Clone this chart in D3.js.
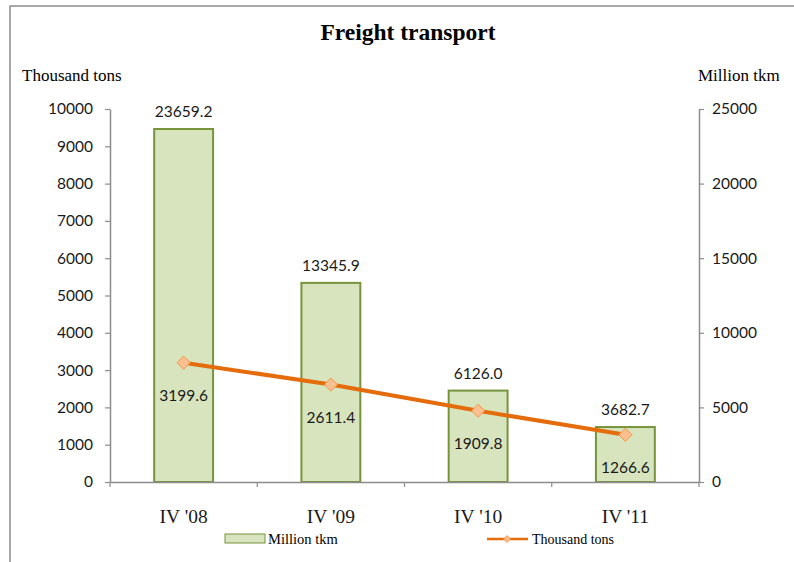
<!DOCTYPE html>
<html>
<head>
<meta charset="utf-8">
<script src="https://cdn.jsdelivr.net/npm/d3@7"></script>
<style>
  body { margin: 0; background: #fff; }
  .serif { font-family: "Liberation Serif", "DejaVu Serif", serif; }
  .sans { font-family: Lato, "Open Sans", sans-serif; }
</style>
</head>
<body>
<script>
// freight transport: bars = million tkm (right axis), line = thousand tons (left axis)
const quarters = ["IV '08", "IV '09", "IV '10", "IV '11"];
const millionTkm = [23659.2, 13345.9, 6126.0, 3682.7];
const thousandTons = [3199.6, 2611.4, 1909.8, 1266.6];
const leftTicks = [0, 1000, 2000, 3000, 4000, 5000, 6000, 7000, 8000, 9000, 10000];
const rightTicks = [0, 5000, 10000, 15000, 20000, 25000];

const W = 794, H = 562;
const plot = {left: 110, right: 699, top: 109, bottom: 482};

const svg = d3.select("body").append("svg")
    .attr("width", W)
    .attr("height", H);

// outer frame
svg.append("rect")
    .attr("x", 10).attr("y", 6)
    .attr("width", W + 20).attr("height", H + 20)
    .attr("fill", "none")
    .attr("stroke", "#8c8c8c")
    .attr("stroke-width", 1.5);

svg.append("text")
    .attr("class", "serif")
    .attr("x", 408).attr("y", 40)
    .attr("text-anchor", "middle")
    .style("font-size", "23.5px")
    .style("font-weight", "bold")
    .text("Freight transport");

svg.append("text")
    .attr("class", "serif")
    .attr("x", 22).attr("y", 81)
    .style("font-size", "17px")
    .text("Thousand tons");

svg.append("text")
    .attr("class", "serif")
    .attr("x", 698).attr("y", 81)
    .style("font-size", "17px")
    .text("Million tkm");

let x = d3.scaleBand()
    .domain(quarters)
    .range([plot.left, plot.right])
    .paddingInner(0).paddingOuter(0);

let yLeft = d3.scaleLinear().domain([0, 10000]).range([plot.bottom, plot.top]);
let yRight = d3.scaleLinear().domain([0, 25000]).range([plot.bottom, plot.top]);

function styleAxis(g) {
    g.select(".domain").attr("stroke", "#8c8c8c").attr("stroke-width", 1.5);
    g.selectAll(".tick line").attr("stroke", "#8c8c8c").attr("stroke-width", 1.2);
    g.selectAll(".tick text")
        .attr("class", "sans")
        .attr("fill", "#1a1a1a")
        .style("font-size", "15.5px");
}

svg.append("g")
    .attr("transform", "translate(" + plot.left + ",0)")
    .call(d3.axisLeft(yLeft).tickValues(leftTicks).tickFormat(d3.format("d"))
        .tickSize(5).tickPadding(12).tickSizeOuter(0))
    .call(styleAxis);

svg.append("g")
    .attr("transform", "translate(" + plot.right + ",0)")
    .call(d3.axisRight(yRight).tickValues(rightTicks).tickFormat(d3.format("d"))
        .tickSize(5).tickPadding(8).tickSizeOuter(0))
    .call(styleAxis);

// bars
let barW = x.bandwidth() * 0.4;
svg.selectAll(".bar")
    .data(millionTkm)
    .enter()
    .append("rect")
        .attr("class", "bar")
        .attr("x", (d, i) => x(quarters[i]) + (x.bandwidth() - barW) / 2)
        .attr("y", d => yRight(d))
        .attr("width", barW)
        .attr("height", d => yRight(0) - yRight(d))
        .attr("fill", "#d7e4bd")
        .attr("stroke", "#77933c")
        .attr("stroke-width", 2);

svg.selectAll(".barLabel")
    .data(millionTkm)
    .enter()
    .append("text")
        .attr("class", "sans")
        .attr("x", (d, i) => x(quarters[i]) + x.bandwidth() / 2)
        .attr("y", d => yRight(d) - 12)
        .attr("text-anchor", "middle")
        .attr("fill", "#1a1a1a")
        .style("font-size", "15.5px")
        .text(d => d.toFixed(1));

// category axis drawn on top of bars
let xAxisG = svg.append("g")
    .attr("transform", "translate(0," + plot.bottom + ")")
    .call(d3.axisBottom(x).tickSize(0).tickPadding(0));
xAxisG.select(".domain").attr("stroke", "#8c8c8c").attr("stroke-width", 1.5);
xAxisG.selectAll(".tick text")
    .attr("class", "serif")
    .attr("dy", 0)
    .attr("y", 41)
    .attr("fill", "#1a1a1a")
    .style("font-size", "19.5px");

// boundary ticks between categories
let bounds = quarters.map(q => x(q)).concat([plot.right]);
xAxisG.selectAll(".bound")
    .data(bounds)
    .enter()
    .append("line")
        .attr("x1", d => d).attr("x2", d => d)
        .attr("y1", 0).attr("y2", 5)
        .attr("stroke", "#8c8c8c")
        .attr("stroke-width", 1.2);

// line
let cx = (d, i) => x(quarters[i]) + x.bandwidth() / 2;
let line = d3.line()
    .x(cx)
    .y(d => yLeft(d));

svg.append("path")
    .datum(thousandTons)
    .attr("d", line)
    .attr("fill", "none")
    .attr("stroke", "#e46c0a")
    .attr("stroke-width", 4);

let diamond = d3.symbol().type(d3.symbolDiamond2).size(110);
svg.selectAll(".marker")
    .data(thousandTons)
    .enter()
    .append("path")
        .attr("class", "marker")
        .attr("d", diamond)
        .attr("transform", (d, i) => "translate(" + cx(d, i) + "," + yLeft(d) + ")")
        .attr("fill", "#fac090")
        .attr("stroke", "#f79646")
        .attr("stroke-width", 1);

svg.selectAll(".lineLabel")
    .data(thousandTons)
    .enter()
    .append("text")
        .attr("class", "sans")
        .attr("x", cx)
        .attr("y", d => yLeft(d) + 38)
        .attr("text-anchor", "middle")
        .attr("fill", "#1a1a1a")
        .style("font-size", "15.5px")
        .text(d => d.toFixed(1));

// legend
let legend = svg.append("g");
legend.append("rect")
    .attr("x", 225).attr("y", 534)
    .attr("width", 40).attr("height", 9)
    .attr("fill", "#d7e4bd")
    .attr("stroke", "#77933c")
    .attr("stroke-width", 1);
legend.append("text")
    .attr("class", "serif")
    .attr("x", 268).attr("y", 544)
    .style("font-size", "14.5px")
    .text("Million tkm");

legend.append("line")
    .attr("x1", 487).attr("x2", 528)
    .attr("y1", 539).attr("y2", 539)
    .attr("stroke", "#e46c0a")
    .attr("stroke-width", 2.5);
legend.append("path")
    .attr("d", d3.symbol().type(d3.symbolDiamond2).size(30))
    .attr("transform", "translate(507,539)")
    .attr("fill", "#fac090")
    .attr("stroke", "#f79646");
legend.append("text")
    .attr("class", "serif")
    .attr("x", 532).attr("y", 544)
    .style("font-size", "14px")
    .text("Thousand tons");
</script>
</body>
</html>
